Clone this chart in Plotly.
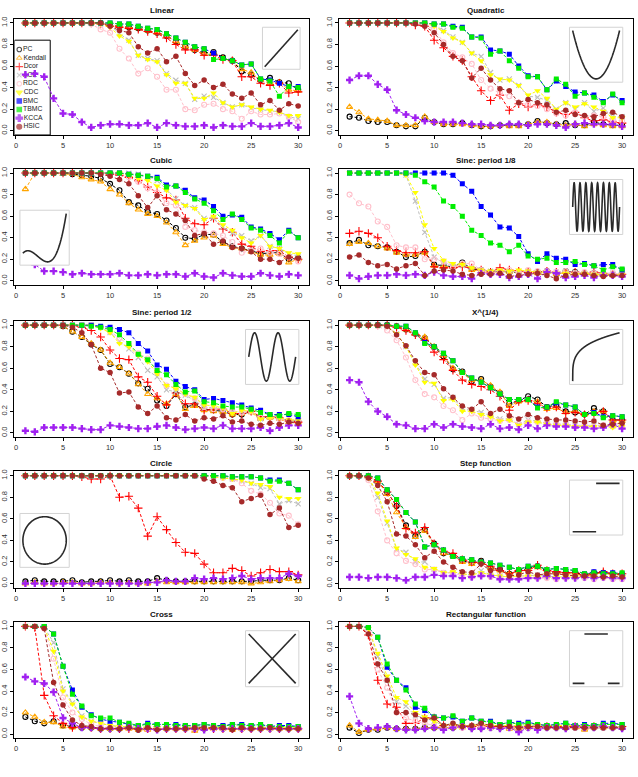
import numpy as np
import plotly.graph_objects as go

X = list(range(1, 31))
METHODS = ["PC", "Kendall", "Dcor", "ACE", "RDC", "CDC", "BMC", "TBMC", "KCCA", "HSIC"]
COLORS = {"PC": "#000000", "Kendall": "#FFA500", "Dcor": "#FF0000", "ACE": "#BEBEBE",
          "RDC": "#FFC0CB", "CDC": "#FFFF00", "BMC": "#0000FF", "TBMC": "#00EE00",
          "KCCA": "#A020F0", "HSIC": "#A52A2A"}
SYMBOLS = {"PC": "circle-open", "Kendall": "triangle-up-open", "Dcor": "cross-thin-open",
           "ACE": "x-thin-open", "RDC": "circle-open", "CDC": "triangle-down",
           "BMC": "square", "TBMC": "square", "KCCA": "cross", "HSIC": "circle"}
SIZES = {"PC": 5, "Kendall": 5.5, "Dcor": 6, "ACE": 5, "RDC": 5, "CDC": 6,
         "BMC": 5, "TBMC": 5, "KCCA": 6, "HSIC": 5.5}

linear = {
    "PC": [1, 1, 1, 1, 1, 1, 1, 1, 1.0, 0.98, 0.97, 0.96, 0.95, 0.93, 0.91, 0.88, 0.83, 0.78, 0.75, 0.72, 0.73, 0.68, 0.65, 0.55, 0.52, 0.47, 0.49, 0.45, 0.44, 0.38],
    "Kendall": [1, 1, 1, 1, 1, 1, 1, 1, 1.0, 0.98, 0.97, 0.96, 0.95, 0.93, 0.91, 0.88, 0.83, 0.78, 0.75, 0.71, 0.72, 0.67, 0.65, 0.57, 0.54, 0.47, 0.44, 0.45, 0.38, 0.37],
    "Dcor": [1, 1, 1, 1, 1, 1, 1, 1, 0.99, 0.97, 0.96, 0.95, 0.94, 0.92, 0.90, 0.86, 0.80, 0.75, 0.75, 0.70, 0.70, 0.66, 0.65, 0.50, 0.50, 0.44, 0.42, 0.44, 0.35, 0.36],
    "ACE": [1, 1, 1, 1, 1, 1, 1, 1, 0.99, 0.98, 0.90, 0.84, 0.70, 0.67, 0.65, 0.53, 0.47, 0.44, 0.29, 0.32, 0.31, 0.26, 0.22, 0.24, 0.21, 0.20, 0.18, 0.18, 0.13, 0.11],
    "RDC": [1, 1, 1, 1, 1, 1, 1, 0.99, 0.94, 0.91, 0.76, 0.67, 0.53, 0.58, 0.50, 0.38, 0.38, 0.20, 0.19, 0.24, 0.25, 0.20, 0.18, 0.11, 0.18, 0.15, 0.15, 0.16, 0.13, 0.08],
    "CDC": [1, 1, 1, 1, 1, 1, 1, 1, 0.99, 0.96, 0.88, 0.83, 0.70, 0.66, 0.64, 0.52, 0.44, 0.44, 0.30, 0.30, 0.35, 0.26, 0.22, 0.24, 0.22, 0.20, 0.19, 0.17, 0.14, 0.14],
    "BMC": [1, 1, 1, 1, 1, 1, 1, 1, 1, 1, 0.99, 0.99, 0.97, 0.95, 0.94, 0.90, 0.86, 0.82, 0.78, 0.76, 0.72, 0.67, 0.65, 0.61, 0.62, 0.48, 0.47, 0.44, 0.41, 0.41],
    "TBMC": [1, 1, 1, 1, 1, 1, 1, 1, 1, 1, 0.99, 0.99, 0.97, 0.95, 0.94, 0.90, 0.86, 0.82, 0.78, 0.76, 0.66, 0.67, 0.65, 0.61, 0.62, 0.48, 0.46, 0.32, 0.41, 0.40],
    "KCCA": [0.52, 0.53, 0.50, 0.30, 0.16, 0.15, 0.08, 0.03, 0.05, 0.06, 0.06, 0.05, 0.05, 0.07, 0.03, 0.07, 0.05, 0.04, 0.04, 0.05, 0.03, 0.05, 0.04, 0.04, 0.07, 0.04, 0.04, 0.05, 0.07, 0.03],
    "HSIC": [1, 1, 1, 1, 1, 1, 1, 1, 1.0, 0.97, 0.93, 0.91, 0.78, 0.72, 0.76, 0.64, 0.69, 0.53, 0.42, 0.47, 0.40, 0.43, 0.34, 0.30, 0.35, 0.24, 0.28, 0.19, 0.25, 0.23],
}

quadratic = {
    "PC": [0.13, 0.12, 0.09, 0.08, 0.08, 0.05, 0.04, 0.04, 0.12, 0.08, 0.06, 0.06, 0.07, 0.05, 0.04, 0.04, 0.05, 0.05, 0.05, 0.06, 0.09, 0.07, 0.06, 0.07, 0.05, 0.05, 0.08, 0.06, 0.05, 0.05],
    "Kendall": [0.22, 0.17, 0.11, 0.10, 0.09, 0.05, 0.05, 0.05, 0.13, 0.08, 0.06, 0.06, 0.06, 0.05, 0.04, 0.04, 0.05, 0.04, 0.04, 0.06, 0.08, 0.08, 0.06, 0.05, 0.06, 0.04, 0.06, 0.05, 0.04, 0.04],
    "Dcor": [1, 1, 1, 1, 1, 1, 1, 0.98, 0.97, 0.84, 0.77, 0.69, 0.65, 0.50, 0.37, 0.28, 0.33, 0.19, 0.25, 0.22, 0.24, 0.22, 0.17, 0.15, 0.17, 0.12, 0.09, 0.10, 0.08, 0.07],
    "ACE": [1, 1, 1, 1, 1, 1, 1, 1, 1, 0.98, 0.93, 0.87, 0.82, 0.72, 0.69, 0.54, 0.47, 0.48, 0.42, 0.32, 0.31, 0.28, 0.20, 0.26, 0.20, 0.26, 0.18, 0.21, 0.13, 0.13],
    "RDC": [1, 1, 1, 1, 1, 1, 1, 1, 0.98, 0.94, 0.82, 0.72, 0.68, 0.62, 0.47, 0.39, 0.35, 0.32, 0.26, 0.24, 0.23, 0.20, 0.16, 0.14, 0.17, 0.13, 0.14, 0.13, 0.10, 0.09],
    "CDC": [1, 1, 1, 1, 1, 1, 1, 1, 1, 0.97, 0.92, 0.86, 0.82, 0.72, 0.65, 0.52, 0.48, 0.47, 0.42, 0.33, 0.37, 0.30, 0.20, 0.26, 0.22, 0.25, 0.22, 0.18, 0.12, 0.12],
    "BMC": [1, 1, 1, 1, 1, 1, 1, 1, 1, 0.99, 0.99, 0.97, 0.96, 0.87, 0.87, 0.75, 0.74, 0.71, 0.60, 0.51, 0.50, 0.38, 0.46, 0.41, 0.36, 0.35, 0.33, 0.27, 0.33, 0.28],
    "TBMC": [1, 1, 1, 1, 1, 1, 1, 1, 1, 0.99, 0.99, 0.96, 0.95, 0.87, 0.86, 0.71, 0.74, 0.65, 0.58, 0.50, 0.50, 0.38, 0.48, 0.43, 0.32, 0.35, 0.31, 0.26, 0.34, 0.26],
    "KCCA": [0.47, 0.51, 0.51, 0.43, 0.38, 0.19, 0.15, 0.12, 0.09, 0.08, 0.08, 0.08, 0.07, 0.06, 0.06, 0.05, 0.05, 0.06, 0.06, 0.05, 0.06, 0.06, 0.05, 0.03, 0.06, 0.07, 0.06, 0.06, 0.06, 0.04],
    "HSIC": [1, 1, 1, 1, 1, 1, 1, 0.99, 0.97, 0.91, 0.80, 0.69, 0.65, 0.49, 0.58, 0.47, 0.39, 0.37, 0.26, 0.29, 0.26, 0.24, 0.17, 0.19, 0.15, 0.14, 0.13, 0.16, 0.17, 0.13],
}

cubic = {
    "PC": [1, 1, 1, 1, 1, 0.99, 0.98, 0.97, 0.95, 0.90, 0.84, 0.73, 0.70, 0.64, 0.62, 0.56, 0.49, 0.40, 0.39, 0.43, 0.43, 0.36, 0.32, 0.30, 0.28, 0.25, 0.26, 0.26, 0.20, 0.21],
    "Kendall": [0.85, 1, 1, 1, 0.99, 0.99, 0.96, 0.94, 0.92, 0.85, 0.80, 0.72, 0.66, 0.62, 0.60, 0.54, 0.45, 0.33, 0.37, 0.40, 0.42, 0.34, 0.31, 0.30, 0.27, 0.24, 0.24, 0.25, 0.17, 0.20],
    "Dcor": [1, 1, 1, 1, 1, 1, 1, 1, 1, 0.99, 0.98, 0.96, 0.93, 0.87, 0.82, 0.77, 0.75, 0.58, 0.53, 0.52, 0.58, 0.48, 0.45, 0.34, 0.32, 0.27, 0.28, 0.28, 0.22, 0.20],
    "ACE": [1, 1, 1, 1, 1, 1, 1, 1, 1, 1, 1, 1, 0.99, 0.97, 0.93, 0.85, 0.76, 0.70, 0.68, 0.58, 0.58, 0.50, 0.44, 0.42, 0.37, 0.42, 0.32, 0.30, 0.25, 0.23],
    "RDC": [1, 1, 1, 1, 1, 1, 1, 1, 1, 1, 1, 0.96, 0.92, 0.86, 0.82, 0.72, 0.70, 0.50, 0.47, 0.45, 0.44, 0.42, 0.36, 0.26, 0.28, 0.30, 0.26, 0.25, 0.22, 0.18],
    "CDC": [1, 1, 1, 1, 1, 1, 1, 1, 1, 1, 1, 0.98, 0.95, 0.93, 0.88, 0.84, 0.73, 0.70, 0.67, 0.57, 0.60, 0.52, 0.47, 0.40, 0.35, 0.42, 0.32, 0.30, 0.26, 0.25],
    "BMC": [1, 1, 1, 1, 1, 1, 1, 1, 1, 1, 1, 0.99, 0.98, 0.97, 0.96, 0.89, 0.88, 0.84, 0.77, 0.75, 0.69, 0.60, 0.61, 0.59, 0.50, 0.48, 0.44, 0.38, 0.47, 0.40],
    "TBMC": [1, 1, 1, 1, 1, 1, 1, 1, 1, 1, 1, 0.99, 0.98, 0.97, 0.95, 0.87, 0.88, 0.82, 0.76, 0.72, 0.65, 0.57, 0.62, 0.57, 0.49, 0.47, 0.42, 0.35, 0.46, 0.40],
    "KCCA": [0.35, 0.15, 0.09, 0.09, 0.08, 0.06, 0.07, 0.06, 0.06, 0.06, 0.07, 0.05, 0.05, 0.06, 0.05, 0.06, 0.06, 0.04, 0.07, 0.04, 0.03, 0.07, 0.05, 0.04, 0.04, 0.07, 0.05, 0.04, 0.06, 0.05],
    "HSIC": [1, 1, 1, 1, 1, 1, 1, 1, 0.99, 0.97, 0.94, 0.90, 0.79, 0.68, 0.79, 0.66, 0.62, 0.56, 0.42, 0.44, 0.34, 0.37, 0.31, 0.30, 0.27, 0.20, 0.20, 0.17, 0.22, 0.21],
}

sine8 = {
    "PC": [0.35, 0.38, 0.33, 0.32, 0.31, 0.27, 0.22, 0.23, 0.27, 0.15, 0.14, 0.13, 0.17, 0.11, 0.10, 0.08, 0.09, 0.08, 0.08, 0.07, 0.08, 0.09, 0.06, 0.09, 0.08, 0.07, 0.07, 0.06, 0.06, 0.06],
    "Kendall": [0.34, 0.36, 0.35, 0.32, 0.30, 0.26, 0.24, 0.24, 0.26, 0.14, 0.13, 0.13, 0.15, 0.10, 0.09, 0.07, 0.09, 0.08, 0.09, 0.08, 0.07, 0.08, 0.06, 0.08, 0.07, 0.06, 0.06, 0.05, 0.05, 0.05],
    "Dcor": [0.44, 0.46, 0.44, 0.40, 0.32, 0.28, 0.26, 0.26, 0.27, 0.13, 0.12, 0.12, 0.13, 0.12, 0.10, 0.08, 0.12, 0.10, 0.09, 0.08, 0.08, 0.09, 0.08, 0.07, 0.08, 0.07, 0.08, 0.07, 0.06, 0.06],
    "ACE": [1, 1, 1, 1, 1, 1, 0.98, 0.74, 0.45, 0.22, 0.17, 0.15, 0.14, 0.13, 0.10, 0.09, 0.09, 0.09, 0.08, 0.09, 0.08, 0.08, 0.08, 0.07, 0.08, 0.07, 0.07, 0.07, 0.07, 0.07],
    "RDC": [0.80, 0.72, 0.69, 0.55, 0.50, 0.33, 0.31, 0.31, 0.20, 0.20, 0.18, 0.13, 0.16, 0.16, 0.10, 0.07, 0.09, 0.10, 0.08, 0.10, 0.09, 0.09, 0.08, 0.09, 0.07, 0.08, 0.07, 0.06, 0.07, 0.06],
    "CDC": [1, 1, 1, 1, 1, 1, 0.98, 0.82, 0.52, 0.30, 0.19, 0.16, 0.15, 0.12, 0.10, 0.09, 0.10, 0.09, 0.10, 0.09, 0.08, 0.08, 0.07, 0.07, 0.06, 0.07, 0.06, 0.06, 0.05, 0.06],
    "BMC": [1, 1, 1, 1, 1, 1, 1, 1, 1, 1, 1, 0.98, 0.90, 0.83, 0.69, 0.61, 0.50, 0.49, 0.41, 0.25, 0.18, 0.25, 0.21, 0.20, 0.15, 0.16, 0.14, 0.15, 0.15, 0.10],
    "TBMC": [1, 1, 1, 1, 1, 1, 1, 0.98, 0.92, 0.87, 0.74, 0.69, 0.60, 0.47, 0.42, 0.35, 0.33, 0.27, 0.33, 0.23, 0.20, 0.21, 0.17, 0.17, 0.18, 0.15, 0.14, 0.10, 0.13, 0.11],
    "KCCA": [0.05, 0.02, 0.04, 0.05, 0.05, 0.06, 0.05, 0.06, 0.05, 0.08, 0.05, 0.04, 0.04, 0.02, 0.07, 0.06, 0.06, 0.03, 0.04, 0.06, 0.02, 0.08, 0.07, 0.03, 0.04, 0.05, 0.03, 0.05, 0.05, 0.04],
    "HSIC": [0.22, 0.24, 0.17, 0.14, 0.15, 0.11, 0.14, 0.16, 0.05, 0.09, 0.10, 0.09, 0.06, 0.05, 0.06, 0.06, 0.07, 0.04, 0.05, 0.06, 0.07, 0.05, 0.02, 0.05, 0.06, 0.06, 0.05, 0.04, 0.05, 0.05],
}

sine2 = {
    "PC": [1, 1, 1, 1, 0.99, 0.94, 0.89, 0.82, 0.77, 0.64, 0.61, 0.55, 0.46, 0.41, 0.30, 0.25, 0.36, 0.24, 0.26, 0.22, 0.21, 0.20, 0.17, 0.17, 0.20, 0.14, 0.15, 0.14, 0.11, 0.11],
    "Kendall": [1, 1, 1, 1, 0.99, 0.94, 0.89, 0.83, 0.77, 0.65, 0.61, 0.55, 0.45, 0.36, 0.32, 0.27, 0.36, 0.22, 0.25, 0.21, 0.20, 0.19, 0.17, 0.18, 0.19, 0.13, 0.14, 0.13, 0.10, 0.10],
    "Dcor": [1, 1, 1, 1, 1, 1, 0.98, 0.95, 0.89, 0.77, 0.69, 0.68, 0.52, 0.47, 0.34, 0.26, 0.37, 0.27, 0.27, 0.21, 0.22, 0.22, 0.18, 0.18, 0.20, 0.15, 0.15, 0.14, 0.11, 0.10],
    "ACE": [1, 1, 1, 1, 1, 1, 1, 1, 0.98, 0.93, 0.85, 0.78, 0.70, 0.58, 0.52, 0.40, 0.38, 0.35, 0.30, 0.23, 0.24, 0.22, 0.20, 0.19, 0.20, 0.13, 0.15, 0.14, 0.11, 0.11],
    "RDC": [1, 1, 1, 1, 1, 1, 1, 1, 0.98, 0.94, 0.88, 0.82, 0.74, 0.69, 0.57, 0.44, 0.42, 0.36, 0.32, 0.24, 0.22, 0.22, 0.20, 0.19, 0.20, 0.14, 0.15, 0.13, 0.12, 0.12],
    "CDC": [1, 1, 1, 1, 1, 1, 1, 1, 0.97, 0.93, 0.83, 0.80, 0.72, 0.66, 0.55, 0.44, 0.41, 0.36, 0.33, 0.26, 0.25, 0.23, 0.18, 0.21, 0.20, 0.13, 0.14, 0.14, 0.12, 0.12],
    "BMC": [1, 1, 1, 1, 1, 1, 1, 1, 0.99, 0.98, 0.96, 0.93, 0.83, 0.76, 0.63, 0.59, 0.48, 0.43, 0.40, 0.31, 0.32, 0.30, 0.28, 0.26, 0.23, 0.21, 0.17, 0.17, 0.17, 0.15],
    "TBMC": [1, 1, 1, 1, 1, 1, 1, 0.99, 0.98, 0.96, 0.91, 0.83, 0.73, 0.68, 0.58, 0.54, 0.45, 0.38, 0.39, 0.29, 0.28, 0.25, 0.24, 0.24, 0.22, 0.19, 0.17, 0.16, 0.18, 0.17],
    "KCCA": [0.02, 0.01, 0.05, 0.05, 0.05, 0.05, 0.04, 0.03, 0.03, 0.07, 0.06, 0.05, 0.04, 0.04, 0.06, 0.07, 0.05, 0.03, 0.04, 0.05, 0.04, 0.07, 0.04, 0.04, 0.04, 0.05, 0.02, 0.05, 0.07, 0.07],
    "HSIC": [1, 1, 1, 1, 1, 0.98, 0.93, 0.82, 0.60, 0.56, 0.37, 0.38, 0.24, 0.18, 0.25, 0.14, 0.12, 0.17, 0.11, 0.14, 0.13, 0.16, 0.10, 0.11, 0.08, 0.07, 0.09, 0.08, 0.10, 0.09],
}

quarter = {
    "PC": [1, 1, 1, 1, 1, 0.99, 0.96, 0.92, 0.88, 0.80, 0.71, 0.59, 0.57, 0.48, 0.50, 0.43, 0.37, 0.27, 0.30, 0.34, 0.31, 0.24, 0.26, 0.20, 0.19, 0.17, 0.23, 0.20, 0.12, 0.12],
    "Kendall": [1, 1, 1, 1, 1, 0.99, 0.96, 0.92, 0.89, 0.80, 0.72, 0.60, 0.56, 0.49, 0.49, 0.44, 0.38, 0.25, 0.29, 0.30, 0.29, 0.22, 0.23, 0.19, 0.20, 0.17, 0.20, 0.20, 0.11, 0.11],
    "Dcor": [1, 1, 1, 1, 1, 0.98, 0.95, 0.91, 0.86, 0.75, 0.68, 0.58, 0.49, 0.45, 0.43, 0.40, 0.34, 0.21, 0.29, 0.30, 0.27, 0.23, 0.24, 0.18, 0.19, 0.17, 0.18, 0.20, 0.12, 0.12],
    "ACE": [1, 1, 1, 1, 0.99, 0.92, 0.80, 0.65, 0.50, 0.45, 0.32, 0.33, 0.22, 0.21, 0.19, 0.16, 0.13, 0.13, 0.08, 0.12, 0.11, 0.09, 0.08, 0.08, 0.07, 0.07, 0.07, 0.07, 0.06, 0.07],
    "RDC": [1, 1, 1, 0.99, 0.95, 0.86, 0.70, 0.49, 0.36, 0.33, 0.25, 0.21, 0.12, 0.18, 0.14, 0.13, 0.11, 0.12, 0.08, 0.10, 0.10, 0.09, 0.08, 0.08, 0.06, 0.07, 0.06, 0.07, 0.06, 0.06],
    "CDC": [1, 1, 1, 1, 0.99, 0.92, 0.80, 0.63, 0.47, 0.46, 0.30, 0.31, 0.20, 0.20, 0.17, 0.15, 0.11, 0.12, 0.07, 0.10, 0.10, 0.08, 0.07, 0.07, 0.06, 0.06, 0.06, 0.06, 0.05, 0.06],
    "BMC": [1, 1, 1, 1, 1, 0.99, 0.99, 0.93, 0.84, 0.80, 0.74, 0.67, 0.56, 0.51, 0.47, 0.42, 0.36, 0.31, 0.31, 0.31, 0.24, 0.24, 0.28, 0.26, 0.24, 0.17, 0.19, 0.15, 0.16, 0.15],
    "TBMC": [1, 1, 1, 1, 1, 0.99, 0.99, 0.93, 0.83, 0.80, 0.74, 0.67, 0.56, 0.51, 0.47, 0.42, 0.36, 0.31, 0.31, 0.31, 0.23, 0.24, 0.29, 0.26, 0.24, 0.17, 0.18, 0.14, 0.16, 0.15],
    "KCCA": [0.49, 0.47, 0.29, 0.20, 0.15, 0.08, 0.07, 0.04, 0.04, 0.08, 0.05, 0.08, 0.06, 0.05, 0.04, 0.08, 0.04, 0.05, 0.03, 0.07, 0.04, 0.07, 0.06, 0.06, 0.05, 0.05, 0.04, 0.05, 0.08, 0.04],
    "HSIC": [1, 1, 1, 1, 0.99, 0.91, 0.81, 0.67, 0.56, 0.54, 0.41, 0.33, 0.25, 0.22, 0.29, 0.18, 0.22, 0.16, 0.13, 0.17, 0.14, 0.13, 0.12, 0.12, 0.11, 0.10, 0.11, 0.07, 0.08, 0.09],
}

circle = {
    "PC": [0.02, 0.03, 0.02, 0.02, 0.02, 0.03, 0.01, 0.02, 0.02, 0.03, 0.02, 0.03, 0.02, 0.02, 0.05, 0.03, 0.02, 0.02, 0.02, 0.02, 0.02, 0.02, 0.02, 0.02, 0.02, 0.03, 0.03, 0.03, 0.05, 0.03],
    "Kendall": [0.0, 0.01, 0.0, 0.0, 0.01, 0.01, 0.0, 0.0, 0.01, 0.01, 0.0, 0.01, 0.0, 0.0, 0.02, 0.01, 0.01, 0.01, 0.01, 0.01, 0.01, 0.01, 0.01, 0.01, 0.0, 0.01, 0.02, 0.03, 0.04, 0.02],
    "Dcor": [1, 1, 1, 1, 1, 1, 0.99, 0.97, 0.97, 1.0, 0.80, 0.81, 0.70, 0.44, 0.62, 0.50, 0.38, 0.29, 0.28, 0.18, 0.10, 0.10, 0.14, 0.12, 0.07, 0.10, 0.13, 0.11, 0.11, 0.08],
    "ACE": [1, 1, 1, 1, 1, 1, 1, 1, 1, 1, 1, 1, 1, 1, 1, 1, 1, 1, 1, 1, 1, 1, 0.97, 0.95, 0.93, 0.89, 0.88, 0.74, 0.77, 0.74],
    "RDC": [1, 1, 1, 1, 1, 1, 1, 1, 1, 1, 1, 1, 1, 1, 1, 1, 1, 1, 1, 1, 0.99, 0.98, 0.97, 0.93, 0.86, 0.83, 0.75, 0.65, 0.63, 0.55],
    "CDC": [1, 1, 1, 1, 1, 1, 1, 1, 1, 1, 1, 1, 1, 1, 1, 1, 1, 1, 1, 1, 0.99, 0.98, 0.97, 0.96, 0.93, 0.92, 0.90, 0.80, 0.79, 0.79],
    "BMC": [1, 1, 1, 1, 1, 1, 1, 1, 1, 1, 1, 1, 1, 1, 1, 1, 1, 1, 1, 1, 1, 1, 0.99, 0.99, 0.99, 0.98, 0.96, 0.96, 0.93, 0.87],
    "TBMC": [1, 1, 1, 1, 1, 1, 1, 1, 1, 1, 1, 1, 1, 1, 1, 1, 1, 1, 1, 1, 1, 1, 0.99, 0.99, 0.99, 0.98, 0.95, 0.95, 0.93, 0.87],
    "KCCA": [0.0, 0.0, 0.0, 0.0, 0.0, 0.0, 0.0, 0.0, 0.0, 0.0, 0.0, 0.0, 0.0, 0.01, 0.01, 0.03, 0.02, 0.02, 0.05, 0.04, 0.05, 0.04, 0.05, 0.07, 0.04, 0.05, 0.05, 0.05, 0.09, 0.07],
    "HSIC": [1, 1, 1, 1, 1, 1, 1, 1, 1, 1, 1, 1, 1, 1, 1, 1, 1, 1, 1, 0.97, 0.95, 0.91, 0.89, 0.76, 0.79, 0.82, 0.64, 0.70, 0.52, 0.54],
}

step = {
    "PC": [1, 1, 0.99, 0.95, 0.85, 0.72, 0.54, 0.44, 0.50, 0.37, 0.28, 0.26, 0.21, 0.19, 0.21, 0.14, 0.13, 0.09, 0.12, 0.14, 0.16, 0.11, 0.10, 0.10, 0.10, 0.08, 0.10, 0.10, 0.09, 0.08],
    "Kendall": [1, 1, 0.99, 0.95, 0.83, 0.66, 0.52, 0.43, 0.49, 0.36, 0.28, 0.26, 0.20, 0.18, 0.20, 0.14, 0.12, 0.09, 0.11, 0.13, 0.15, 0.10, 0.10, 0.09, 0.09, 0.07, 0.09, 0.10, 0.08, 0.08],
    "Dcor": [1, 1, 0.99, 0.95, 0.85, 0.72, 0.51, 0.47, 0.52, 0.37, 0.30, 0.28, 0.22, 0.20, 0.19, 0.16, 0.12, 0.09, 0.12, 0.12, 0.17, 0.12, 0.11, 0.10, 0.10, 0.07, 0.09, 0.11, 0.09, 0.09],
    "ACE": [1, 1, 0.98, 0.80, 0.56, 0.32, 0.29, 0.20, 0.20, 0.13, 0.10, 0.10, 0.09, 0.08, 0.12, 0.08, 0.07, 0.06, 0.07, 0.07, 0.08, 0.07, 0.06, 0.06, 0.06, 0.06, 0.06, 0.06, 0.05, 0.06],
    "RDC": [1, 1, 0.96, 0.67, 0.40, 0.28, 0.21, 0.18, 0.13, 0.13, 0.10, 0.10, 0.07, 0.06, 0.08, 0.06, 0.05, 0.05, 0.05, 0.06, 0.05, 0.05, 0.04, 0.05, 0.05, 0.05, 0.04, 0.05, 0.04, 0.04],
    "CDC": [1, 1, 0.98, 0.84, 0.58, 0.33, 0.27, 0.23, 0.15, 0.14, 0.10, 0.11, 0.09, 0.08, 0.10, 0.08, 0.07, 0.06, 0.07, 0.07, 0.07, 0.06, 0.06, 0.06, 0.06, 0.06, 0.06, 0.06, 0.05, 0.06],
    "BMC": [1, 1, 1, 0.98, 0.87, 0.78, 0.66, 0.57, 0.34, 0.36, 0.31, 0.25, 0.23, 0.22, 0.20, 0.19, 0.17, 0.15, 0.13, 0.16, 0.16, 0.13, 0.14, 0.13, 0.12, 0.09, 0.11, 0.10, 0.10, 0.09],
    "TBMC": [1, 1, 1, 0.98, 0.87, 0.78, 0.66, 0.57, 0.34, 0.36, 0.31, 0.25, 0.23, 0.22, 0.20, 0.19, 0.17, 0.15, 0.13, 0.16, 0.16, 0.13, 0.14, 0.13, 0.12, 0.09, 0.10, 0.09, 0.09, 0.10],
    "KCCA": [0.06, 0.06, 0.05, 0.06, 0.06, 0.05, 0.03, 0.06, 0.06, 0.08, 0.07, 0.07, 0.05, 0.06, 0.07, 0.07, 0.04, 0.04, 0.04, 0.05, 0.05, 0.07, 0.05, 0.05, 0.05, 0.06, 0.05, 0.06, 0.05, 0.05],
    "HSIC": [1, 1, 0.98, 0.91, 0.76, 0.46, 0.44, 0.36, 0.24, 0.30, 0.20, 0.15, 0.11, 0.10, 0.18, 0.12, 0.13, 0.07, 0.08, 0.11, 0.08, 0.09, 0.09, 0.08, 0.07, 0.07, 0.07, 0.06, 0.07, 0.06],
}

cross = {
    "PC": [0.16, 0.12, 0.10, 0.12, 0.08, 0.07, 0.06, 0.06, 0.05, 0.05, 0.05, 0.06, 0.04, 0.05, 0.05, 0.05, 0.05, 0.05, 0.05, 0.05, 0.06, 0.05, 0.05, 0.05, 0.05, 0.05, 0.05, 0.05, 0.05, 0.05],
    "Kendall": [0.20, 0.16, 0.11, 0.11, 0.07, 0.06, 0.06, 0.06, 0.05, 0.05, 0.05, 0.05, 0.04, 0.04, 0.05, 0.05, 0.05, 0.05, 0.03, 0.05, 0.05, 0.05, 0.04, 0.05, 0.05, 0.05, 0.05, 0.05, 0.05, 0.05],
    "Dcor": [1, 0.99, 0.36, 0.17, 0.10, 0.06, 0.07, 0.06, 0.05, 0.05, 0.05, 0.05, 0.05, 0.05, 0.05, 0.05, 0.05, 0.05, 0.05, 0.05, 0.05, 0.05, 0.05, 0.05, 0.05, 0.05, 0.05, 0.05, 0.05, 0.05],
    "ACE": [1, 1, 0.99, 0.85, 0.42, 0.29, 0.17, 0.12, 0.10, 0.08, 0.07, 0.07, 0.06, 0.07, 0.07, 0.07, 0.06, 0.07, 0.07, 0.07, 0.06, 0.07, 0.06, 0.07, 0.06, 0.07, 0.06, 0.07, 0.07, 0.06],
    "RDC": [1, 1, 0.98, 0.70, 0.34, 0.20, 0.14, 0.09, 0.07, 0.06, 0.06, 0.06, 0.05, 0.05, 0.05, 0.05, 0.05, 0.05, 0.05, 0.05, 0.05, 0.05, 0.05, 0.05, 0.05, 0.05, 0.05, 0.05, 0.05, 0.05],
    "CDC": [1, 1, 0.99, 0.77, 0.40, 0.28, 0.16, 0.12, 0.10, 0.08, 0.07, 0.07, 0.06, 0.06, 0.07, 0.06, 0.06, 0.06, 0.06, 0.06, 0.06, 0.06, 0.06, 0.06, 0.06, 0.06, 0.06, 0.06, 0.06, 0.06],
    "BMC": [1, 1, 1, 0.93, 0.63, 0.41, 0.25, 0.18, 0.14, 0.12, 0.11, 0.09, 0.08, 0.10, 0.09, 0.09, 0.09, 0.08, 0.08, 0.09, 0.08, 0.08, 0.09, 0.09, 0.08, 0.09, 0.07, 0.08, 0.08, 0.07],
    "TBMC": [1, 1, 1, 0.93, 0.63, 0.37, 0.26, 0.17, 0.15, 0.15, 0.11, 0.10, 0.08, 0.09, 0.09, 0.09, 0.08, 0.08, 0.08, 0.09, 0.08, 0.07, 0.09, 0.08, 0.08, 0.09, 0.07, 0.07, 0.07, 0.07],
    "KCCA": [0.53, 0.49, 0.47, 0.39, 0.15, 0.10, 0.06, 0.06, 0.05, 0.05, 0.05, 0.06, 0.05, 0.05, 0.04, 0.05, 0.05, 0.05, 0.05, 0.04, 0.05, 0.05, 0.05, 0.05, 0.05, 0.05, 0.05, 0.05, 0.05, 0.05],
    "HSIC": [1, 1, 0.98, 0.48, 0.27, 0.13, 0.08, 0.07, 0.05, 0.06, 0.05, 0.06, 0.04, 0.06, 0.04, 0.05, 0.05, 0.05, 0.06, 0.06, 0.06, 0.06, 0.04, 0.06, 0.05, 0.05, 0.06, 0.05, 0.05, 0.05],
}

rectangular = {
    "PC": [0.06, 0.01, 0.04, 0.04, 0.06, 0.05, 0.05, 0.05, 0.06, 0.06, 0.06, 0.06, 0.07, 0.06, 0.06, 0.06, 0.06, 0.06, 0.06, 0.06, 0.06, 0.06, 0.06, 0.06, 0.06, 0.06, 0.06, 0.06, 0.06, 0.06],
    "Kendall": [0.08, 0.02, 0.04, 0.05, 0.06, 0.05, 0.05, 0.05, 0.06, 0.06, 0.06, 0.06, 0.06, 0.06, 0.06, 0.06, 0.06, 0.05, 0.05, 0.06, 0.06, 0.06, 0.06, 0.06, 0.06, 0.04, 0.06, 0.06, 0.06, 0.06],
    "Dcor": [1, 1, 0.92, 0.50, 0.28, 0.25, 0.10, 0.10, 0.15, 0.15, 0.08, 0.08, 0.07, 0.07, 0.08, 0.07, 0.07, 0.07, 0.07, 0.07, 0.07, 0.07, 0.07, 0.07, 0.07, 0.07, 0.07, 0.07, 0.07, 0.07],
    "ACE": [1, 1, 0.98, 0.72, 0.50, 0.30, 0.26, 0.17, 0.15, 0.12, 0.08, 0.09, 0.08, 0.08, 0.09, 0.08, 0.08, 0.08, 0.07, 0.08, 0.08, 0.07, 0.07, 0.07, 0.08, 0.07, 0.07, 0.07, 0.07, 0.07],
    "RDC": [1, 1, 0.95, 0.60, 0.43, 0.20, 0.15, 0.12, 0.10, 0.08, 0.06, 0.07, 0.06, 0.06, 0.06, 0.06, 0.06, 0.06, 0.06, 0.06, 0.06, 0.06, 0.06, 0.06, 0.06, 0.06, 0.06, 0.06, 0.06, 0.06],
    "CDC": [1, 1, 0.98, 0.75, 0.54, 0.34, 0.30, 0.20, 0.16, 0.12, 0.08, 0.09, 0.08, 0.08, 0.09, 0.08, 0.08, 0.08, 0.08, 0.08, 0.09, 0.08, 0.08, 0.08, 0.08, 0.07, 0.08, 0.08, 0.06, 0.07],
    "BMC": [1, 1, 0.99, 0.90, 0.62, 0.50, 0.43, 0.25, 0.22, 0.16, 0.15, 0.16, 0.12, 0.15, 0.12, 0.12, 0.09, 0.11, 0.10, 0.11, 0.09, 0.08, 0.09, 0.10, 0.08, 0.09, 0.08, 0.10, 0.10, 0.09],
    "TBMC": [1, 1, 0.99, 0.90, 0.65, 0.50, 0.41, 0.28, 0.24, 0.16, 0.15, 0.17, 0.12, 0.15, 0.12, 0.11, 0.09, 0.11, 0.09, 0.10, 0.09, 0.08, 0.09, 0.10, 0.08, 0.08, 0.08, 0.09, 0.09, 0.09],
    "KCCA": [0.35, 0.10, 0.05, 0.06, 0.07, 0.05, 0.04, 0.04, 0.05, 0.06, 0.04, 0.06, 0.07, 0.05, 0.05, 0.06, 0.05, 0.06, 0.02, 0.06, 0.04, 0.06, 0.06, 0.05, 0.07, 0.06, 0.06, 0.07, 0.06, 0.05],
    "HSIC": [1, 1, 0.93, 0.65, 0.50, 0.20, 0.20, 0.18, 0.13, 0.15, 0.08, 0.10, 0.07, 0.08, 0.10, 0.08, 0.07, 0.07, 0.06, 0.07, 0.07, 0.06, 0.06, 0.06, 0.06, 0.06, 0.06, 0.06, 0.06, 0.06],
}

TITLES = ["Linear", "Quadratic", "Cubic", "Sine: period 1/8", "Sine: period 1/2",
          "X^(1/4)", "Circle", "Step function", "Cross", "Rectangular function"]
PANEL_DATA = [linear, quadratic, cubic, sine8, sine2, quarter, circle, step, cross, rectangular]
INSET_KIND = ["linear", "quadratic", "cubic", "sine8", "sine2", "quarter", "circle", "step", "cross", "rect"]

# ---------------- layout geometry (pixels) ----------------
W, H = 638, 777
COL_X = [(13.5, 308.6), (338.2, 633.0)]
ROW_Y1 = [21.0, 171.5, 324.0, 475.0, 626.0]   # pixel of y = 1.0
UNIT = 108.0
XR = [-0.16, 31.16]
YR = [-0.04, 1.04]

# inset boxes in data coordinates
BOX_RIGHT = (24.4, 30.07, 0.45, 0.96)
BOX_LEFT = (0.42, 5.66, 0.145, 0.655)
INSET_BOX = {"linear": (26.2, 30.2, 0.57, 0.96), "quadratic": BOX_RIGHT, "cubic": BOX_LEFT,
             "sine8": (24.4, 30.07, 0.43, 0.94), "sine2": BOX_RIGHT, "quarter": BOX_RIGHT,
             "circle": (0.42, 5.66, 0.15, 0.65), "step": BOX_RIGHT, "cross": (24.4, 30.07, 0.44, 0.96),
             "rect": (24.4, 30.07, 0.44, 0.96)}


def inset_curves(kind):
    t = np.linspace(0, 1, 400)
    if kind == "linear":
        return [(np.array([0.0, 1.0]), np.array([0.0, 1.0]))]
    if kind == "quadratic":
        return [(t, 4 * (t - 0.5) ** 2)]
    if kind == "cubic":
        u = -0.2 + 0.95 * t
        f = 128 * u ** 3 - 48 * u ** 2 - 12 * u
        return [(t, (f - f.min()) / (f.max() - f.min()))]
    if kind == "sine8":
        return [(t, (np.sin(16 * np.pi * t) + 1) / 2)]
    if kind == "sine2":
        return [(t, (np.sin(4 * np.pi * t) + 1) / 2)]
    if kind == "quarter":
        return [(t, t ** 0.25)]
    if kind == "circle":
        th = np.linspace(0, 2 * np.pi, 200)
        return [(0.5 + 0.5 * np.cos(th), 0.5 + 0.5 * np.sin(th))]
    if kind == "step":
        return [(np.array([0, 0.5]), np.array([0, 0])), (np.array([0.5, 1]), np.array([1, 1]))]
    if kind == "cross":
        return [(np.array([0, 1]), np.array([0, 1])), (np.array([0, 1]), np.array([1, 0]))]
    if kind == "rect":
        return [(np.array([0, 0.25]), np.array([0, 0])), (np.array([0.25, 0.75]), np.array([1, 1])),
                (np.array([0.75, 1]), np.array([0, 0]))]
    return []


FONT = "Liberation Sans, Arial, Helvetica, sans-serif"
fig = go.Figure()
shapes = []
annotations = []
layout_axes = {}

for k, (title, data, kind) in enumerate(zip(TITLES, PANEL_DATA, INSET_KIND)):
    row, col = k // 2, k % 2
    n = "" if k == 0 else str(k + 1)
    xa, ya = "x" + n, "y" + n
    x0p, x1p = COL_X[col]
    top = ROW_Y1[row] - (YR[1] - 1) * UNIT
    bot = ROW_Y1[row] + (0 - YR[0]) * UNIT + UNIT
    dom_x = [x0p / W, x1p / W]
    dom_y = [1 - bot / H, 1 - top / H]
    axis_common = dict(showline=True, mirror=True, linecolor="#000", linewidth=1,
                       ticks="outside", ticklen=3, tickwidth=1, tickcolor="#000",
                       showgrid=False, zeroline=False,
                       tickfont=dict(family=FONT, size=7.5, color="#333"))
    layout_axes["xaxis" + n] = dict(domain=dom_x, range=XR, anchor=ya,
                                    tickvals=[0, 5, 10, 15, 20, 25, 30], **axis_common)
    layout_axes["yaxis" + n] = dict(domain=dom_y, range=YR, anchor=xa, tickangle=-90,
                                    tickvals=[0, 0.2, 0.4, 0.6, 0.8, 1.0], tickformat=".1f",
                                    **axis_common)

    # legend (first panel only), drawn before the data series
    if k == 0:
        shapes.append(dict(type="rect", xref=xa, yref=ya, x0=XR[0], x1=3.64, y0=YR[0], y1=0.84,
                           line=dict(color="#000", width=1), fillcolor="white", layer="below"))
        ly = [0.754 - i * 0.0797 for i in range(len(METHODS))]
        fig.add_trace(go.Scatter(
            x=[0.35] * len(METHODS), y=ly, xaxis=xa, yaxis=ya, mode="markers+text",
            text=METHODS, textposition="middle right",
            textfont=dict(family=FONT, size=6.8, color="#222"),
            marker=dict(symbol=[SYMBOLS[m] for m in METHODS],
                        color=[COLORS[m] for m in METHODS],
                        size=[SIZES[m] - 0.5 for m in METHODS],
                        line=dict(width=1.1, color=[COLORS[m] for m in METHODS])),
            showlegend=False, hoverinfo="skip", cliponaxis=False))

    for m in METHODS:
        open_sym = SYMBOLS[m].endswith("open")
        fig.add_trace(go.Scatter(
            x=X, y=data[m], xaxis=xa, yaxis=ya, mode="lines+markers", name=m,
            line=dict(color=COLORS[m], width=1, dash="3px,2px"),
            marker=dict(symbol=SYMBOLS[m], color=COLORS[m], size=SIZES[m],
                        line=dict(width=1.1 if open_sym else 0, color=COLORS[m])),
            showlegend=False))

    # inset illustration
    bx0, bx1, by0, by1 = INSET_BOX[kind]
    shapes.append(dict(type="rect", xref=xa, yref=ya, x0=bx0, x1=bx1, y0=by0, y1=by1,
                       line=dict(color="#D3D3D3", width=1), fillcolor="white", layer="above"))
    pad = 0.06
    for (tt, vv) in inset_curves(kind):
        px = bx0 + (pad + (1 - 2 * pad) * np.asarray(tt, float)) * (bx1 - bx0)
        py = by0 + (pad + (1 - 2 * pad) * np.asarray(vv, float)) * (by1 - by0)
        path = "M " + " L ".join(f"{a:.4f},{b:.4f}" for a, b in zip(px, py))
        shapes.append(dict(type="path", xref=xa, yref=ya, path=path,
                           line=dict(color="#2a2a2a", width=1.6), layer="above"))

    annotations.append(dict(text=f"<b>{title}</b>", xref="paper", yref="paper",
                            x=(dom_x[0] + dom_x[1]) / 2, y=1 - (top - 8) / H,
                            xanchor="center", yanchor="middle", showarrow=False,
                            font=dict(family=FONT, size=8, color="#111")))

fig.update_layout(width=W, height=H, margin=dict(l=0, r=0, t=0, b=0),
                  paper_bgcolor="white", plot_bgcolor="white", showlegend=False,
                  shapes=shapes, annotations=annotations, **layout_axes)

fig.write_html("out.html")
